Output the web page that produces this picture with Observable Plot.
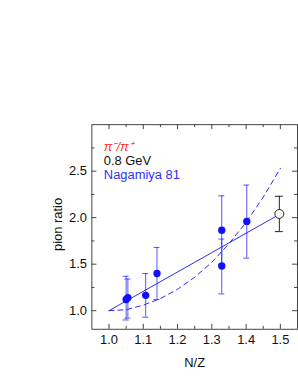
<!DOCTYPE html>
<html><head><meta charset="utf-8">
<script src="https://cdn.jsdelivr.net/npm/d3@7"></script>
<script src="https://cdn.jsdelivr.net/npm/@observablehq/plot@0.6"></script>
<style>body{margin:0;overflow:hidden;background:#fff}</style>
</head><body><div id="chart"></div>
<script>
// Nagamiya 81 data
const nzRatio   = [1.05, 1.055, 1.107, 1.14, 1.329, 1.329, 1.402];
const pionRatio = [1.12, 1.14, 1.165, 1.40, 1.865, 1.48, 1.96];
const errLow    = [0.90, 0.92, 0.93, 1.12, 1.50, 1.18, 1.565];
const errHigh   = [1.37, 1.34, 1.40, 1.68, 2.235, 1.77, 2.35];
// open-circle point
const ownX = [1.497], ownY = [2.04], ownLow = [1.85], ownHigh = [2.23];
// solid line (linear fit)
const fitX = [1.0, 1.49], fitY = [1.0, 2.02];
// dashed curve (model)
const modelX = [1.0, 1.05, 1.1, 1.15, 1.2, 1.25, 1.3, 1.35, 1.4, 1.45, 1.5];
const modelY = [1.0, 1.01, 1.06, 1.13, 1.23, 1.36, 1.52, 1.72, 1.95, 2.22, 2.53];
// ticks
const xMajor = [1.0, 1.1, 1.2, 1.3, 1.4, 1.5];
const xMinor = [1.05, 1.15, 1.25, 1.35, 1.45];
const yMajor = [1.0, 1.5, 2.0, 2.5];
const yMinor = [1.25, 1.75, 2.25, 2.75];
const legendLines = ["π⁻/π⁺", "0.8 GeV", "Nagamiya 81"];
const legendColors = ["#ff3030", "#111111", "#3030ff"];
const xLabel = "N/Z", yLabel = "pion ratio";

const nag = nzRatio.map((x, i) => ({x, y: pionRatio[i], lo: errLow[i], hi: errHigh[i]}));
const own = ownX.map((x, i) => ({x, y: ownY[i], lo: ownLow[i], hi: ownHigh[i]}));
const fit = fitX.map((x, i) => ({x, y: fitY[i]}));
const model = modelX.map((x, i) => ({x, y: modelY[i]}));

const blue = "#2a2aff";
const frameH = 206;
const axisColor = "#444";

const chart = Plot.plot({
  width: 300, height: 385,
  marginLeft: 92, marginRight: 1, marginTop: 125, marginBottom: 54,
  style: {fontFamily: "'Liberation Sans', Arial, sans-serif", fontSize: "13px", background: "white"},
  x: {domain: [0.95, 1.55]},
  y: {domain: [0.8, 3.0]},
  marks: [
    // ticks (inward)
    Plot.ruleX(xMajor, {stroke: axisColor, insetTop: frameH - 5}),
    Plot.ruleX(xMinor, {stroke: axisColor, insetTop: frameH - 3}),
    Plot.ruleX(xMajor, {stroke: axisColor, insetBottom: frameH - 5}),
    Plot.ruleX(xMinor, {stroke: axisColor, insetBottom: frameH - 3}),
    Plot.ruleY(yMajor, {stroke: axisColor, insetRight: 207 - 5}),
    Plot.ruleY(yMinor, {stroke: axisColor, insetRight: 207 - 3}),
    Plot.ruleY(yMajor, {stroke: axisColor, insetLeft: 207 - 5}),
    Plot.ruleY(yMinor, {stroke: axisColor, insetLeft: 207 - 3}),
    Plot.axisX(xMajor, {tickSize: 0, tickPadding: 6, tickFormat: d3.format(".1f"), label: null, fill: "#111"}),
    Plot.axisY(yMajor, {tickSize: 0, tickPadding: 5, tickFormat: d3.format(".1f"), label: null, fill: "#111"}),
    Plot.text([xLabel], {frameAnchor: "bottom", dy: 38, fill: "#111"}),
    // curves
    Plot.line(model, {x: "x", y: "y", stroke: blue, strokeWidth: 1, strokeDasharray: "5,4"}),
    Plot.line(fit, {x: "x", y: "y", stroke: blue, strokeWidth: 1}),
    // Nagamiya error bars
    Plot.ruleX(nag, {x: "x", y1: "lo", y2: "hi", stroke: blue, strokeOpacity: 0.8}),
    Plot.ruleY(nag, {y: "hi", x1: "x", x2: "x", insetLeft: -3, insetRight: -3, stroke: blue, strokeOpacity: 0.8}),
    Plot.ruleY(nag, {y: "lo", x1: "x", x2: "x", insetLeft: -3, insetRight: -3, stroke: blue, strokeOpacity: 0.8}),
    Plot.dot(nag, {x: "x", y: "y", r: 3.7, fill: "#1010ff"}),
    // own point
    Plot.ruleX(own, {x: "x", y1: "lo", y2: "hi", stroke: "#222"}),
    Plot.ruleY(own, {y: "hi", x1: "x", x2: "x", insetLeft: -4, insetRight: -4, stroke: "#222"}),
    Plot.ruleY(own, {y: "lo", x1: "x", x2: "x", insetLeft: -4, insetRight: -4, stroke: "#222"}),
    Plot.dot(own, {x: "x", y: "y", r: 4.5, fill: "white", stroke: "#222", strokeWidth: 1}),
    // legend
    Plot.text(legendLines, {frameAnchor: "top-left", textAnchor: "start", fill: (d, i) => legendColors[i]}),
    Plot.frame({stroke: axisColor})
  ]
});
document.getElementById("chart").append(chart);
// place legend text (styling only)
const legendPos = [[104, 148], [104, 162], [104, 176]];
d3.select(chart).selectAll("text").each(function(){
  const s = this.textContent, t = d3.select(this);
  const i = legendLines.indexOf(s);
  if (i >= 0) {
    t.attr("x", null).attr("y", null).attr("dx", null).attr("dy", null)
     .attr("transform", `translate(${legendPos[i][0]},${legendPos[i][1]})`)
     .attr("dominant-baseline", "middle").attr("text-anchor", "start");
    if (i === 0) t.attr("font-style", "italic");
  }
});
// y-axis title
d3.select(chart).append("text")
  .attr("x", 58).attr("y", 230)
  .attr("transform", "rotate(-90 58 226)")
  .attr("text-anchor", "middle")
  .attr("fill", "#111").attr("font-family", "'Liberation Sans', Arial, sans-serif")
  .attr("font-size", 13).text(yLabel);
</script>
</body></html>
